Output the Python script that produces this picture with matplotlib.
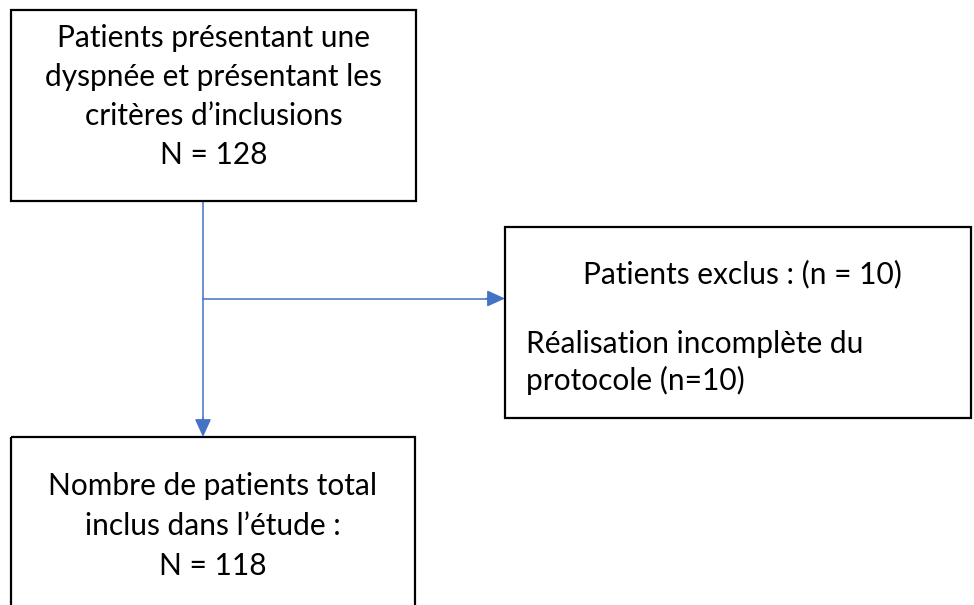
import matplotlib.pyplot as plt
from matplotlib.patches import Rectangle

# textes du diagramme de flux
box_inclus = ["Patients présentant une", "dyspnée et présentant les",
              "critères d\u2019inclusions", "N = 128"]
box_exclus_titre = "Patients exclus : (n = 10)"
box_exclus_detail = ["Réalisation incomplète du", "protocole (n=10)"]
box_total = ["Nombre de patients total", "inclus dans l\u2019étude :", "N = 118"]

BLUE = "#4472C4"
FONT = "Lato"
FS = 21.5
HEAD = "-|>,head_width=0.5,head_length=1.1"

fig = plt.figure(figsize=(9.74, 6.05), dpi=100)
ax = fig.add_axes([0, 0, 1, 1])
ax.set_xlim(0, 974)
ax.set_ylim(605, 0)
ax.axis("off")


def box(x0, y0, x1, y1):
    ax.add_patch(Rectangle((x0, y0), x1 - x0, y1 - y0, fill=False,
                           edgecolor="black", linewidth=1.6, zorder=3))


# boites
box(11, 10, 416, 201)
box(505, 227, 971, 418)
box(11, 437, 415, 620)

# fleches
ax.plot([203, 203], [201, 425], color=BLUE, lw=1.1, zorder=2)
ax.annotate("", xy=(203, 437), xytext=(203, 418),
            arrowprops=dict(arrowstyle=HEAD, color=BLUE, lw=1.1,
                            shrinkA=0, shrinkB=0))
ax.plot([203, 492], [298.5, 298.5], color=BLUE, lw=1.1, zorder=2)
ax.annotate("", xy=(505, 298.5), xytext=(486, 298.5),
            arrowprops=dict(arrowstyle=HEAD, color=BLUE, lw=1.1,
                            shrinkA=0, shrinkB=0))

# textes
for i, t in enumerate(box_inclus):
    ax.text(213.5, 47 + 39 * i, t, ha="center", va="baseline",
            fontsize=FS, family=FONT)
for i, t in enumerate(box_total):
    ax.text(213, 495 + 40 * i, t, ha="center", va="baseline",
            fontsize=FS, family=FONT)
ax.text(742, 283, box_exclus_titre, ha="center", va="baseline",
        fontsize=FS, family=FONT)
for i, t in enumerate(box_exclus_detail):
    ax.text(526, 353 + 37 * i, t, ha="left", va="baseline",
            fontsize=FS, family=FONT)

fig.savefig("out.png", dpi=100)
